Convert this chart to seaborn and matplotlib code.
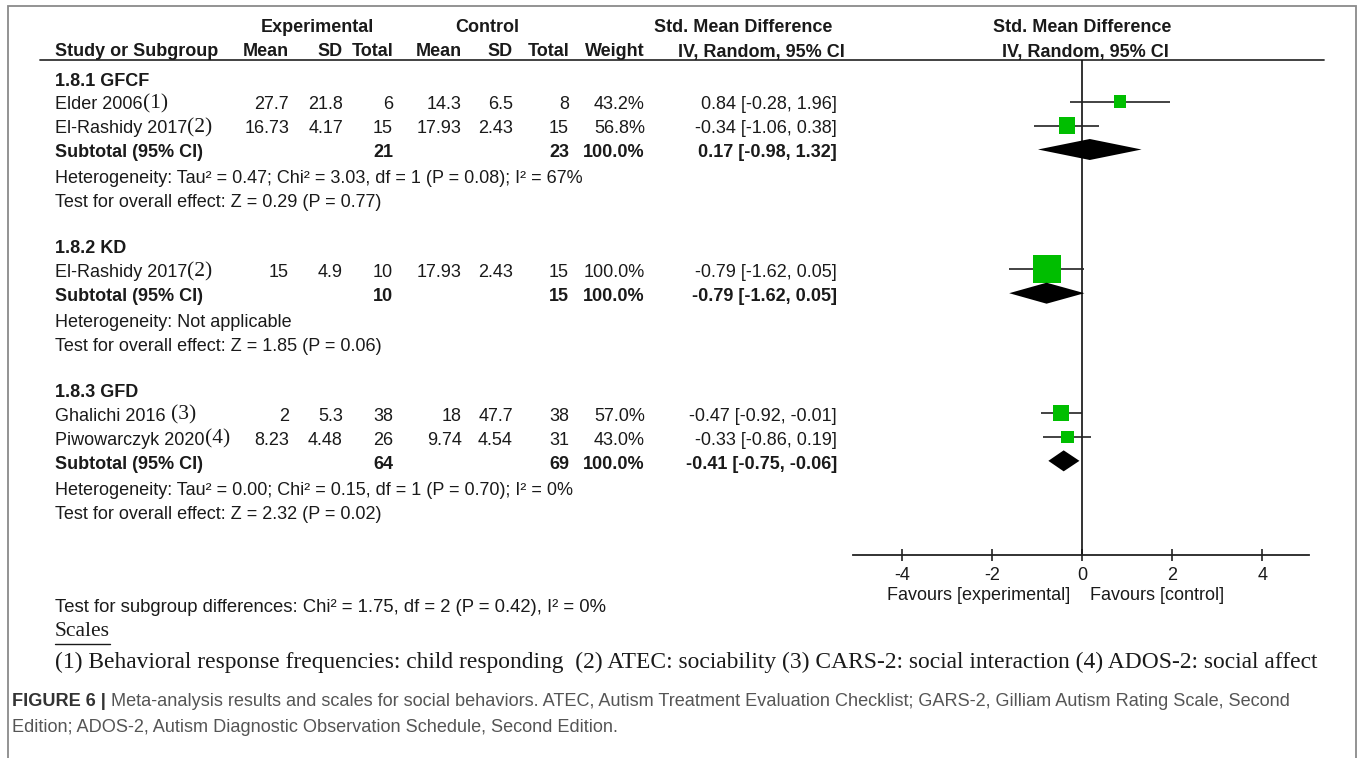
import matplotlib
matplotlib.use("Agg")
import matplotlib.pyplot as plt
from matplotlib import font_manager
import seaborn as sns
import numpy as np
import pandas as pd

# ---------------- data ----------------
groups = ["1.8.1 GFCF", "1.8.2 KD", "1.8.3 GFD"]
study_names = ["Elder 2006", "El-Rashidy 2017", "El-Rashidy 2017", "Ghalichi 2016 ", "Piwowarczyk 2020"]
study_refs = ["(1)", "(2)", "(2)", "(3)", "(4)"]
study_group = [0, 0, 1, 2, 2]
exp_mean = [27.7, 16.73, 15, 2, 8.23]
exp_sd = [21.8, 4.17, 4.9, 5.3, 4.48]
exp_n = [6, 15, 10, 38, 26]
ctl_mean = [14.3, 17.93, 17.93, 18, 9.74]
ctl_sd = [6.5, 2.43, 2.43, 47.7, 4.54]
ctl_n = [8, 15, 15, 38, 31]
weights = [43.2, 56.8, 100.0, 57.0, 43.0]
smd = [0.84, -0.34, -0.79, -0.47, -0.33]
ci_lo = [-0.28, -1.06, -1.62, -0.92, -0.86]
ci_hi = [1.96, 0.38, 0.05, -0.01, 0.19]

sub_exp_n = [21, 10, 64]
sub_ctl_n = [23, 15, 69]
sub_smd = [0.17, -0.79, -0.41]
sub_lo = [-0.98, -1.62, -0.75]
sub_hi = [1.32, 0.05, -0.06]
heterogeneity = [
    "Heterogeneity: Tau² = 0.47; Chi² = 3.03, df = 1 (P = 0.08); I² = 67%",
    "Heterogeneity: Not applicable",
    "Heterogeneity: Tau² = 0.00; Chi² = 0.15, df = 1 (P = 0.70); I² = 0%",
]
overall = [
    "Test for overall effect: Z = 0.29 (P = 0.77)",
    "Test for overall effect: Z = 1.85 (P = 0.06)",
    "Test for overall effect: Z = 2.32 (P = 0.02)",
]
x_ticks = [-4, -2, 0, 2, 4]
subgroup_test = "Test for subgroup differences: Chi² = 1.75, df = 2 (P = 0.42), I² = 0%"
scales_title = "Scales"
scales_text = ("(1) Behavioral response frequencies: child responding  (2) ATEC: sociability "
               "(3) CARS-2: social interaction (4) ADOS-2: social affect")
caption_bold = "FIGURE 6 |"
caption_1 = (" Meta-analysis results and scales for social behaviors. ATEC, Autism Treatment "
             "Evaluation Checklist; GARS-2, Gilliam Autism Rating Scale, Second")
caption_2 = "Edition; ADOS-2, Autism Diagnostic Observation Schedule, Second Edition."

# ---------------- style ----------------
sns.set_theme(style="white")
plt.rcParams["font.family"] = ["Liberation Sans", "DejaVu Sans"]
plt.rcParams["axes.unicode_minus"] = False
avail = {f.name for f in font_manager.fontManager.ttflist}
CAP_FONT = "Liberation Sans Narrow" if "Liberation Sans Narrow" in avail else "Liberation Sans"

W, H = 1357, 758
TXT = "#1a1a1a"
GREEN = "#00BE00"
FS = 13.0
SERIF = ["Liberation Serif", "DejaVu Serif"]

fig = plt.figure(figsize=(W / 100, H / 100), dpi=100)
fig.patch.set_facecolor("white")
base = fig.add_axes([0, 0, 1, 1])
base.set_xlim(0, W)
base.set_ylim(H, 0)
base.axis("off")
renderer = fig.canvas.get_renderer()

# frame
base.plot([8, 8, 1356, 1356], [H, 6, 6, H], color="#8a8a8a", lw=1.3, solid_joinstyle="miter")

# ---------------- row layout ----------------
Y0, DY = 81.0, 23.95
def ypix(k):
    return Y0 + k * DY

rows_header, rows_study, rows_sub, rows_het, rows_test = [], [], [], [], []
k = 0
for g in range(len(groups)):
    rows_header.append(k); k += 1
    for i, sg in enumerate(study_group):
        if sg == g:
            rows_study.append(k); k += 1
    rows_sub.append(k); k += 1
    rows_het.append(k); k += 1
    rows_test.append(k); k += 1
    k += 1

# column right edges (pixels)
col_x = {"em": 289, "esd": 343, "en": 393, "cm": 462, "csd": 513, "cn": 569, "w": 645, "ci": 837}
X_LEFT = 55

def t(x, y, s, ha="left", bold=False, **kw):
    kw.setdefault("fontsize", FS)
    kw.setdefault("color", TXT)
    return base.text(x, y, s, ha=ha, va="center", fontweight="bold" if bold else "normal", **kw)

# headers
t(317, 28, "Experimental", ha="center", bold=True)
t(487, 28, "Control", ha="center", bold=True)
t(743, 28, "Std. Mean Difference", ha="center", bold=True)
t(1082, 28, "Std. Mean Difference", ha="center", bold=True)
t(X_LEFT, 52, "Study or Subgroup", bold=True)
for key, lab in [("em", "Mean"), ("esd", "SD"), ("en", "Total"), ("cm", "Mean"),
                 ("csd", "SD"), ("cn", "Total"), ("w", "Weight")]:
    t(col_x[key], 52, lab, ha="right", bold=True)
t(845, 52, "IV, Random, 95% CI", ha="right", bold=True)
t(1085, 52, "IV, Random, 95% CI", ha="center", bold=True)
base.plot([40, 1324], [60, 60], color="#333333", lw=1.3)

def fmt_ci(e, lo, hi):
    return f"{e:.2f} [{lo:.2f}, {hi:.2f}]"

for g in range(len(groups)):
    t(X_LEFT, ypix(rows_header[g]), groups[g], bold=True)
    t(X_LEFT, ypix(rows_sub[g]), "Subtotal (95% CI)", bold=True)
    t(col_x["en"], ypix(rows_sub[g]), f"{sub_exp_n[g]}", ha="right", bold=True)
    t(col_x["cn"], ypix(rows_sub[g]), f"{sub_ctl_n[g]}", ha="right", bold=True)
    t(col_x["w"], ypix(rows_sub[g]), "100.0%", ha="right", bold=True)
    t(col_x["ci"], ypix(rows_sub[g]), fmt_ci(sub_smd[g], sub_lo[g], sub_hi[g]), ha="right", bold=True)
    t(X_LEFT, ypix(rows_het[g]) + 2, heterogeneity[g])
    t(X_LEFT, ypix(rows_test[g]) + 2, overall[g])

for i, r in enumerate(rows_study):
    y = ypix(r)
    nm = t(X_LEFT, y, study_names[i])
    bb = nm.get_window_extent(renderer)
    base.text(bb.x1, y - 1, study_refs[i], ha="left", va="center", fontsize=15.5,
              family=SERIF, color=TXT)
    t(col_x["em"], y, f"{exp_mean[i]:g}", ha="right")
    t(col_x["esd"], y, f"{exp_sd[i]:g}", ha="right")
    t(col_x["en"], y, f"{exp_n[i]}", ha="right")
    t(col_x["cm"], y, f"{ctl_mean[i]:g}", ha="right")
    t(col_x["csd"], y, f"{ctl_sd[i]:g}", ha="right")
    t(col_x["cn"], y, f"{ctl_n[i]}", ha="right")
    t(col_x["w"], y, f"{weights[i]:.1f}%", ha="right")
    t(col_x["ci"], y, fmt_ci(smd[i], ci_lo[i], ci_hi[i]), ha="right")

# ---------------- forest plot ----------------
PX_L, PX_R, PX_T, PX_B = 853, 1309, 60, 555
ax = fig.add_axes([PX_L / W, 1 - PX_B / H, (PX_R - PX_L) / W, (PX_B - PX_T) / H])
ax.set_facecolor("none")
ax.set_xlim(-5.09, 5.04)
ax.set_ylim((PX_B - Y0) / DY, (PX_T - Y0) / DY)
for sp in ["top", "left", "right"]:
    ax.spines[sp].set_visible(False)
ax.spines["bottom"].set_color("#222222")
ax.spines["bottom"].set_linewidth(1.3)
ax.set_yticks([])
ax.set_xticks(x_ticks)
ax.set_xticklabels([f"{v:d}" for v in x_ticks])
ax.tick_params(axis="x", direction="inout", length=9, width=1.2, color="#222222",
               labelsize=FS, labelcolor=TXT, pad=4, bottom=True)
ax.axvline(0, color="#111111", lw=1.2, zorder=1)

MARK_SHIFT = -0.14
study_y = [float(r) + MARK_SHIFT for r in rows_study]
ax.hlines(study_y, ci_lo, ci_hi, color="#222222", lw=1.2, zorder=2)
side_pt = [(0.27 * w_ + 1.0) * 0.72 for w_ in weights]
df = pd.DataFrame({"smd": smd, "row": study_y})
sns.scatterplot(data=df, x="smd", y="row", marker="s", s=[v ** 2 for v in side_pt],
                color=GREEN, linewidth=0, ax=ax, zorder=3, legend=False)
half_h = 10.5 / DY
for g in range(len(groups)):
    r = float(rows_sub[g]) + MARK_SHIFT
    ax.fill([sub_lo[g], sub_smd[g], sub_hi[g], sub_smd[g]],
            [r, r - half_h, r, r + half_h], color="black", lw=0, zorder=3)
ax.set_xlabel("")
ax.set_ylabel("")

t(1070, 596, "Favours [experimental]", ha="right")
t(1090, 596, "Favours [control]", ha="left")

# ---------------- bottom texts ----------------
def fit(txt_obj, target_w):
    bb = txt_obj.get_window_extent(renderer)
    txt_obj.set_fontsize(txt_obj.get_fontsize() * target_w / bb.width)

st = t(X_LEFT, 607, subgroup_test, fontsize=11.5)
fit(st, 555)
sc = base.text(X_LEFT, 632, scales_title, ha="left", va="center", fontsize=15.5,
               family=SERIF, color=TXT)
bbs = sc.get_window_extent(renderer)
base.plot([X_LEFT, bbs.x1], [644, 644], color=TXT, lw=1.0)
ft = base.text(X_LEFT, 662, scales_text, ha="left", va="center", fontsize=15.5,
               family=SERIF, color=TXT)
fit(ft, 1263)

cb = base.text(12, 701, caption_bold, ha="left", va="center", fontsize=12.5,
               fontweight="bold", color="#333333", family=[CAP_FONT, "Liberation Sans"])
c1 = base.text(0, 701, caption_1, ha="left", va="center", fontsize=12.5,
               color="#555555", family=[CAP_FONT, "Liberation Sans"])
bbb = cb.get_window_extent(renderer)
c1.set_x(bbb.x1)
fit(c1, 1290 - bbb.x1)
cb.set_fontsize(c1.get_fontsize())
bbb = cb.get_window_extent(renderer)
c1.set_x(bbb.x1)
c2 = base.text(12, 727, caption_2, ha="left", va="center", fontsize=c1.get_fontsize(),
               color="#555555", family=[CAP_FONT, "Liberation Sans"])

fig.savefig("out.png", dpi=100, facecolor="white")
